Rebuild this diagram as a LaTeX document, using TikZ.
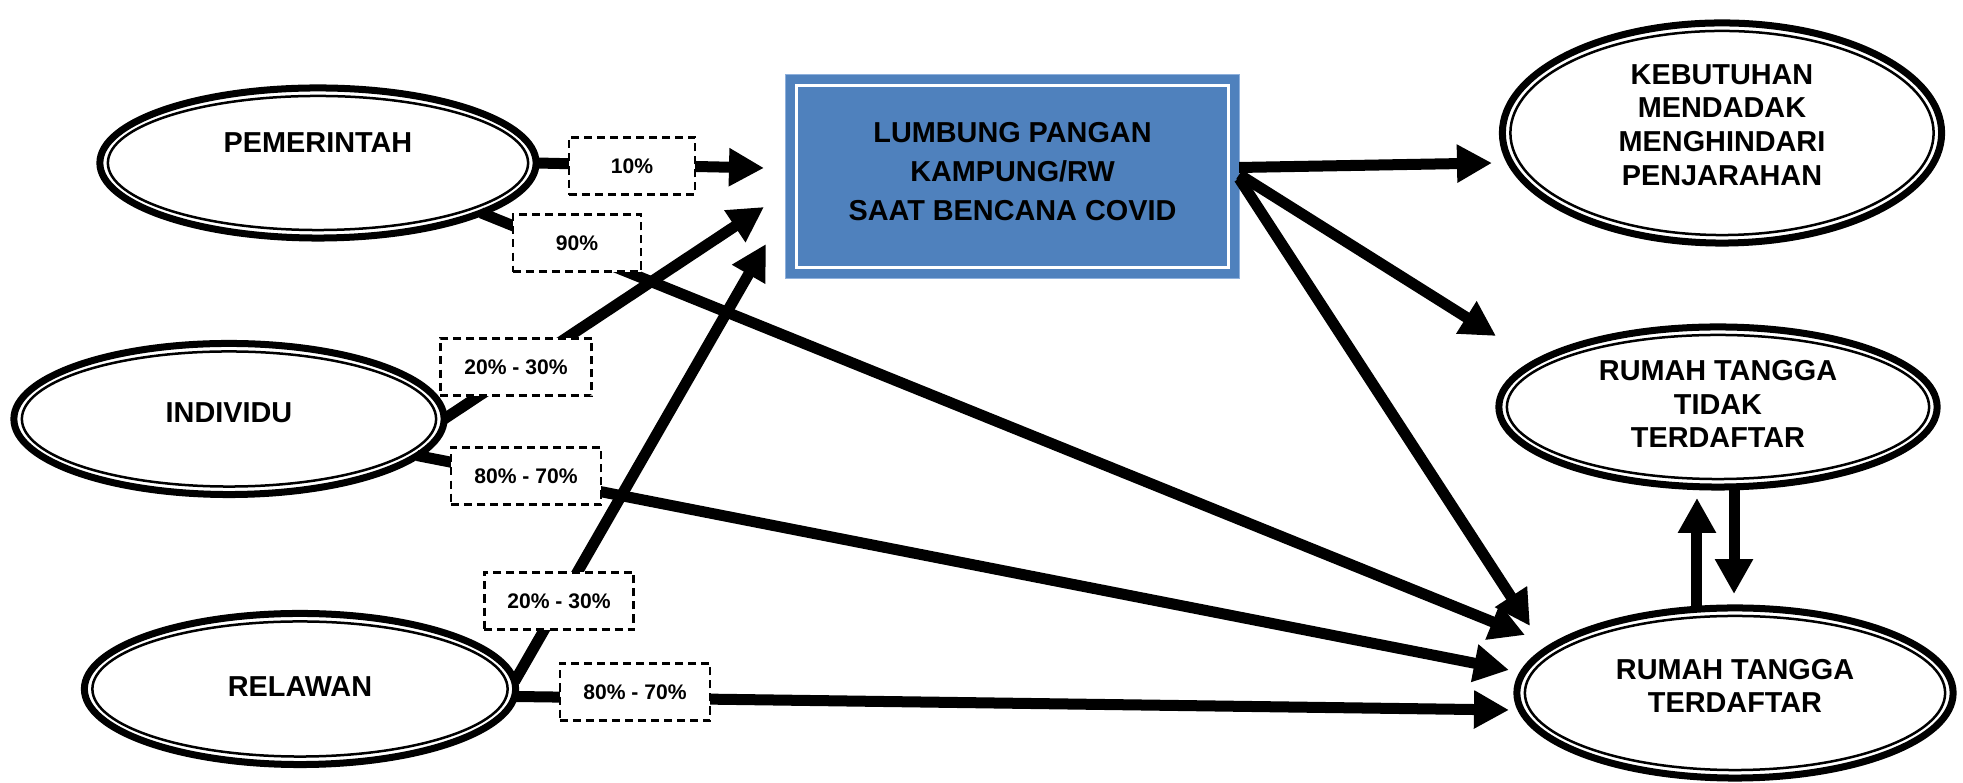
\documentclass[tikz,border=0pt]{standalone}
\usepackage{fontspec}
\setmainfont{Liberation Sans}
\usetikzlibrary{shapes.geometric,arrows.meta,calc}
\definecolor{BoxBlue}{HTML}{4F81BD}
\definecolor{BoxEdge}{HTML}{8EB0DC}

\tikzset{
  ellip/.style={ellipse, draw, line width=0.07cm, fill=white, inner sep=0pt, outer sep=0pt,
    align=center, font=\fontsize{8.2}{9.6}\selectfont\bfseries},
  lift/.style={text height=0.206cm, text depth=#1},
  txt/.style={align=center, inner sep=0pt, font=\fontsize{8.2}{9.6}\selectfont\bfseries},
  flow/.style={line width=0.11cm, -{Triangle[length=0.35cm,width=0.36cm]}},
  pct/.style={draw, dash pattern=on 0.08cm off 0.05cm, line width=0.023cm, fill=white,
    minimum height=0.57cm, inner sep=0pt, font=\fontsize{6}{7}\selectfont\bfseries}
}

\begin{document}
\begin{tikzpicture}[x=0.01cm, y=-0.01cm]
  \path[use as bounding box, fill=white] (0,0) rectangle (1963,783);
  % sources
  \node[ellip, lift=0.42cm, minimum width=4.36cm, minimum height=1.5cm] (pem) at (318,163) {PEMERINTAH};
  \node[ellip, lift=0.14cm, minimum width=4.30cm, minimum height=1.51cm] (ind) at (229,419) {INDIVIDU};
  \node[ellip, lift=0.06cm, minimum width=4.31cm, minimum height=1.51cm] (rel) at (300,689) {RELAWAN};
  % lumbung
  \node[rectangle, fill=BoxBlue, draw=BoxEdge, line width=0.01cm, inner sep=0pt, outer sep=0pt,
    minimum width=4.53cm, minimum height=2.03cm,
    label={[txt, font=\fontsize{8.2}{11.1}\selectfont\bfseries, yshift=0.05cm]center:LUMBUNG PANGAN\\KAMPUNG/RW\\SAAT BENCANA COVID}]
    (lum) at (1012.5,176.5) {};
  \draw[white, line width=0.03cm] ($(lum.north west)+(11,11)$) rectangle ($(lum.south east)-(11,11)$);
  % targets
  \node[ellip, minimum width=4.39cm, minimum height=2.2cm,
    label={[txt, yshift=0.08cm]center:KEBUTUHAN\\MENDADAK\\MENGHINDARI\\PENJARAHAN}] (keb) at (1722,133) {};
  \node[ellip, minimum width=4.38cm, minimum height=1.6cm,
    label={[txt, yshift=0.03cm]center:RUMAH TANGGA\\TIDAK\\TERDAFTAR}] (rtt) at (1718,407) {};
  \node[ellip, minimum width=4.36cm, minimum height=1.7cm,
    label={[txt, yshift=0.07cm]center:RUMAH TANGGA\\TERDAFTAR}] (rtd) at (1735,693) {};
  \foreach \nd in {pem,ind,rel,keb,rtt,rtd}
    \draw[line width=0.025cm] let \p1=($(\nd.east)-(\nd.center)$), \p2=($(\nd.north)-(\nd.center)$) in
      (\nd.center) ellipse [x radius=\x1-0.08cm, y radius=\y2-0.08cm];

  \coordinate (inL1) at (764,168);
  \coordinate (inL2) at (764,207);
  \coordinate (inL3) at (766,244);
  \coordinate (inD1) at (1525,635);
  \coordinate (inD2) at (1509,670);
  \coordinate (inD3) at (1509,710);
  \coordinate (outK) at (1492,163);
  \coordinate (outT) at (1496,336);
  \coordinate (outD) at (1530,626);

  \draw[flow] (pem.east) -- (inL1);
  \draw[flow] (pem.-17) -- (inD1);
  \draw[flow] (ind.east) -- (inL2);
  \draw[flow] (ind.-11) -- (inD2);
  \draw[flow] (rel.2) -- (inL3);
  \draw[flow] (rel.-2) -- (inD3);
  \draw[flow] ([yshift=0.09cm]lum.east) -- (outK);
  \draw[flow] ([yshift=0.02cm]lum.east) -- (outT);
  \draw[flow] ([yshift=-0.02cm]lum.east) -- (outD);
  \draw[flow] ([xshift=-0.38cm]rtd.north) -- ++(0,-110);
  \draw[flow] ([xshift=0.16cm]rtt.south) -- ++(0,107);

  % shares
  \node[pct, minimum width=1.26cm] (p10) at (632,166) {10\%};
  \node[pct, minimum width=1.28cm] (p90) at (577,243) {90\%};
  \node[pct, minimum width=1.51cm] (pi1) at (516,367) {20\% - 30\%};
  \node[pct, minimum width=1.50cm] (pi2) at (526,476) {80\% - 70\%};
  \node[pct, minimum width=1.49cm] (pr1) at (559,601) {20\% - 30\%};
  \node[pct, minimum width=1.50cm] (pr2) at (635,692) {80\% - 70\%};
\end{tikzpicture}
\end{document}
